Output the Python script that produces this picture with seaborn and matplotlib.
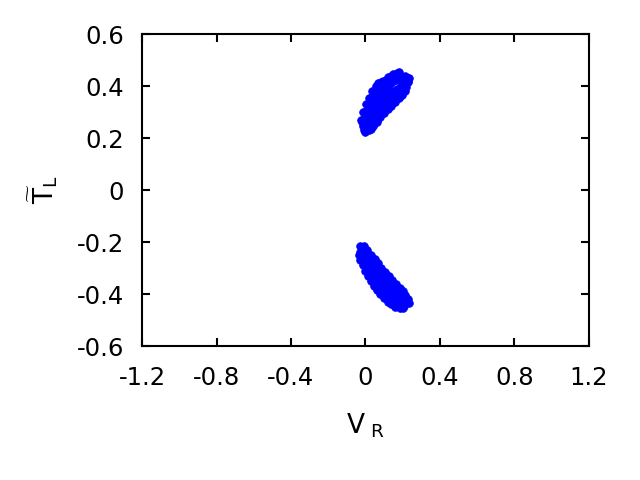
import matplotlib
matplotlib.use("Agg")
import matplotlib.pyplot as plt
import seaborn as sns
import pandas as pd

# upper branch (T_L > 0)
upper_vr = [-0.01, 0.0, 0.01, -0.015, 0.02, 0.0, -0.005, 0.03, 0.015, 0.0, 0.035, 0.02, 0.005, 0.045,
            0.03, 0.015, 0.055, 0.04, 0.025, 0.065, 0.05, 0.035, 0.075, 0.06, 0.045, 0.085, 0.07, 0.055,
            0.095, 0.08, 0.065, 0.105, 0.09, 0.075, 0.12, 0.1, 0.085, 0.135, 0.115, 0.15, 0.13, 0.165,
            0.145, 0.18, 0.16, 0.195, 0.175, 0.21, 0.22, 0.19, 0.17, 0.15, 0.2, 0.13, 0.11, 0.09, 0.07,
            0.05, 0.035, 0.02, 0.19, 0.21, 0.23, 0.17, 0.15, 0.12, 0.1, 0.08, 0.06, 0.04, 0.03,
            -0.02, 0.0, 0.02, 0.04, 0.06, 0.08, 0.11, 0.14, 0.17,
            -0.025, -0.015, 0.005, 0.02, 0.035, 0.055, 0.07, 0.095, 0.12, 0.15, 0.18,
            0.02, 0.04, 0.06, 0.08, 0.1, 0.12, 0.14, 0.16, 0.18, 0.195, 0.21, 0.22, 0.23, 0.235,
            0.05, 0.08, 0.11, 0.14, 0.17, 0.2, 0.12, 0.09, 0.06, 0.03]
upper_tl = [0.23, 0.225, 0.235, 0.245, 0.245, 0.25, 0.265, 0.26, 0.27, 0.28, 0.28, 0.29, 0.295, 0.295,
            0.305, 0.31, 0.31, 0.32, 0.33, 0.325, 0.335, 0.345, 0.34, 0.35, 0.36, 0.355, 0.365, 0.375,
            0.37, 0.38, 0.39, 0.385, 0.395, 0.405, 0.4, 0.41, 0.415, 0.41, 0.42, 0.42, 0.43, 0.425,
            0.435, 0.43, 0.44, 0.435, 0.445, 0.44, 0.435, 0.4, 0.39, 0.38, 0.415, 0.37, 0.355, 0.34, 0.32,
            0.3, 0.27, 0.255, 0.38, 0.4, 0.42, 0.36, 0.35, 0.33, 0.31, 0.29, 0.27, 0.25, 0.235,
            0.26, 0.3, 0.33, 0.36, 0.39, 0.405, 0.425, 0.44, 0.45,
            0.27, 0.3, 0.33, 0.355, 0.38, 0.4, 0.41, 0.42, 0.435, 0.445, 0.455,
            0.23, 0.245, 0.26, 0.28, 0.295, 0.31, 0.325, 0.34, 0.355, 0.365, 0.38, 0.395, 0.415, 0.43,
            0.28, 0.31, 0.34, 0.36, 0.38, 0.395, 0.37, 0.36, 0.33, 0.3]

# lower branch (T_L < 0)
lower_vr = [-0.03, -0.02, -0.03, -0.01, -0.025, 0.0, 0.01, -0.01, 0.02, 0.0, 0.03, 0.015, 0.04, 0.025,
            0.05, 0.035, 0.06, 0.045, 0.07, 0.055, 0.08, 0.065, 0.09, 0.075, 0.1, 0.085, 0.11, 0.095,
            0.12, 0.105, 0.13, 0.115, 0.14, 0.125, 0.15, 0.135, 0.16, 0.145, 0.17, 0.155, 0.18, 0.165,
            0.19, 0.175, 0.2, 0.19, 0.21, 0.22, 0.205, 0.13, 0.15, 0.17, 0.19, 0.21, 0.11, 0.09, 0.07,
            0.05, 0.03, 0.01,
            -0.035, -0.03, -0.015, 0.0, 0.015, 0.03, 0.045, 0.06, 0.08, 0.1, 0.12, 0.14, 0.16, 0.185, 0.2,
            -0.01, 0.01, 0.03, 0.05, 0.065, 0.085, 0.105, 0.125, 0.145, 0.165, 0.185, 0.2, 0.215, 0.23,
            0.235]
lower_tl = [-0.215, -0.225, -0.24, -0.235, -0.26, -0.25, -0.265, -0.275, -0.28, -0.29, -0.29, -0.3,
            -0.3, -0.315, -0.31, -0.325, -0.32, -0.335, -0.33, -0.345, -0.34, -0.355, -0.35, -0.365,
            -0.36, -0.375, -0.37, -0.385, -0.38, -0.395, -0.39, -0.4, -0.395, -0.41, -0.4, -0.42,
            -0.41, -0.425, -0.415, -0.43, -0.42, -0.435, -0.425, -0.44, -0.43, -0.445, -0.435, -0.43,
            -0.445, -0.36, -0.375, -0.39, -0.405, -0.415, -0.345, -0.33, -0.31, -0.29, -0.27, -0.245,
            -0.25, -0.27, -0.29, -0.31, -0.33, -0.35, -0.37, -0.385, -0.4, -0.415, -0.43, -0.44, -0.45,
            -0.455, -0.455,
            -0.215, -0.23, -0.25, -0.265, -0.28, -0.3, -0.315, -0.33, -0.345, -0.36, -0.375, -0.39,
            -0.405, -0.42, -0.435]

x_ticks = [-1.2, -0.8, -0.4, 0, 0.4, 0.8, 1.2]
y_ticks = [-0.6, -0.4, -0.2, 0, 0.2, 0.4, 0.6]

df = pd.DataFrame({"vr": upper_vr + lower_vr, "tl": upper_tl + lower_tl})

sns.set_style("ticks", {"axes.edgecolor": "black", "xtick.color": "black", "ytick.color": "black",
                        "text.color": "black", "axes.labelcolor": "black"})
plt.rcParams["font.family"] = ["DejaVu Sans"]
plt.rcParams["mathtext.fontset"] = "dejavusans"

fig = plt.figure(figsize=(6.4, 4.8), dpi=100)
ax = fig.add_axes([0.222, 0.279, 0.698, 0.650])
sns.scatterplot(data=df, x="vr", y="tl", color="#0000ff", s=30, edgecolor="#0000ff",
                linewidth=0.6, ax=ax, legend=False)

ax.set_xlim(-1.2, 1.2)
ax.set_ylim(-0.6, 0.6)
ax.set_xticks(x_ticks)
ax.set_yticks(y_ticks)
ax.set_xticklabels([f"{t:g}" for t in x_ticks])
ax.set_yticklabels([f"{t:g}" for t in y_ticks])
ax.tick_params(direction="in", length=6, width=1.5, top=True, right=True, labelsize=17.5,
               colors="black")
ax.tick_params(axis="x", pad=14)
ax.tick_params(axis="y", pad=13)
for sp in ax.spines.values():
    sp.set_linewidth(1.5)
    sp.set_visible(True)
    sp.set_color("black")

ax.set_xlabel(r"$\mathregular{V}_{\ \mathregular{R}}$", fontsize=19, labelpad=16, color="black")
ax.set_ylabel(r"$\widetilde{\mathregular{T}}_{\mathregular{L}}$", fontsize=19, labelpad=12,
              color="black")

fig.savefig("out.png", dpi=100)
plt.close(fig)
